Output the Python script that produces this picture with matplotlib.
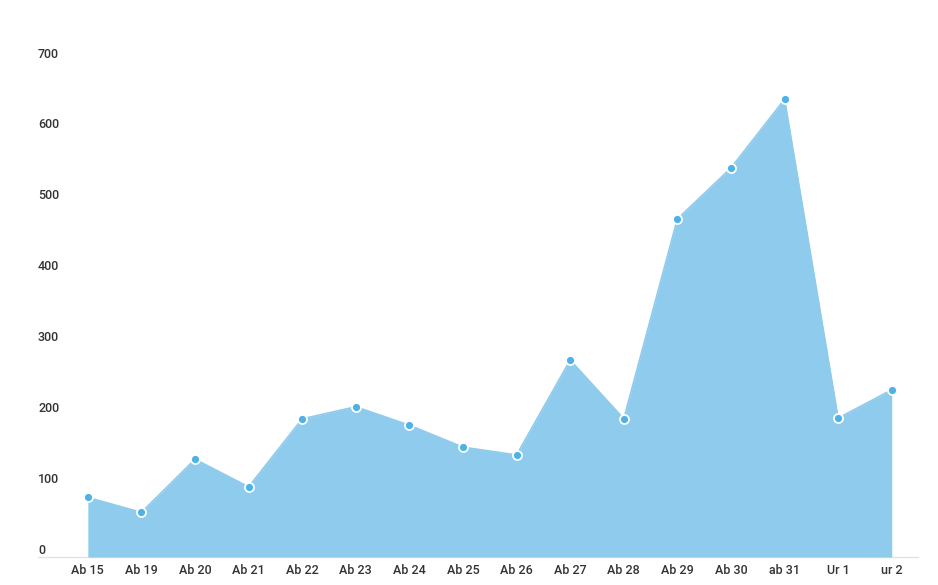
import matplotlib
matplotlib.use("Agg")
import matplotlib.pyplot as plt
from matplotlib import transforms

categories = ["Ab 15", "Ab 19", "Ab 20", "Ab 21", "Ab 22", "Ab 23", "Ab 24", "Ab 25",
              "Ab 26", "Ab 27", "Ab 28", "Ab 29", "Ab 30", "ab 31", "Ur 1", "ur 2"]
values = [84, 63, 138, 99, 195, 212, 186, 155, 144, 278, 195, 477, 549, 646, 196, 236]
y_ticks = [0, 100, 200, 300, 400, 500, 600, 700]

plt.rcParams['font.family'] = ['Roboto', 'DejaVu Sans']

W, H = 938, 585
fig = plt.figure(figsize=(W / 100, H / 100), dpi=100)
ax = fig.add_axes([38 / W, (H - 557) / H, 880 / W, 496 / H])

x = list(range(len(categories)))
ax.fill_between(x, values, 0, color='#8fcbec', linewidth=0, zorder=1)
ax.plot(x, values, color='#8fcbec', linewidth=1.2, zorder=2)
ax.plot(x, values, linestyle='none', marker='o', markersize=6.5,
        markerfacecolor='#4db2e5', markeredgecolor='white', markeredgewidth=1.3, zorder=3)

ax.set_xlim(-0.93, 15.49)
ax.set_ylim(0, 700)

for s in ['top', 'right', 'left']:
    ax.spines[s].set_visible(False)
ax.spines['bottom'].set_color('#e3e3e3')
ax.spines['bottom'].set_linewidth(1)
ax.spines['bottom'].set_zorder(0)

ax.set_xticks(x)
ax.set_xticklabels(categories, fontsize=9, color='#333333', fontweight='medium')
ax.tick_params(axis='x', length=0, pad=5)

ax.set_yticks([])
off = transforms.offset_copy(ax.get_yaxis_transform(), fig=fig, x=0, y=7, units='dots')
for t in y_ticks:
    ax.text(0, t, str(t), transform=off, ha='left', va='center', fontsize=9,
            color='#333333', fontweight='medium')

fig.savefig('out.png', dpi=100, facecolor='white')
